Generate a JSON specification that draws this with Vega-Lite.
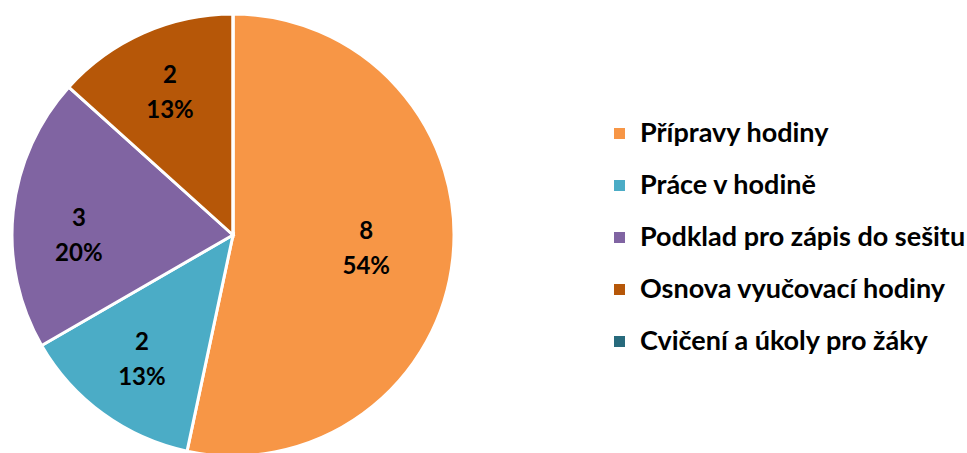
{
  "$schema": "https://vega.github.io/schema/vega-lite/v6.json",
  "width": 466,
  "height": 470,
  "padding": 0,
  "autosize": {"type": "pad"},
  "background": "white",
  "data": {
    "values": [
      {"kategorie": "Přípravy hodiny", "pocet": 8, "procento": 54, "poradi": 1},
      {"kategorie": "Práce v hodině", "pocet": 2, "procento": 13, "poradi": 2},
      {"kategorie": "Podklad pro zápis do sešitu", "pocet": 3, "procento": 20, "poradi": 3},
      {"kategorie": "Osnova vyučovací hodiny", "pocet": 2, "procento": 13, "poradi": 4},
      {"kategorie": "Cvičení a úkoly pro žáky", "pocet": 0, "procento": 0, "poradi": 5}
    ]
  },
  "encoding": {
    "theta": {"field": "pocet", "type": "quantitative", "stack": true},
    "order": {"field": "poradi", "type": "quantitative"}
  },
  "layer": [
    {
      "mark": {"type": "arc", "radius": 221, "stroke": "white", "strokeWidth": 3},
      "encoding": {
        "color": {
          "field": "kategorie",
          "type": "nominal",
          "scale": {
            "domain": ["Přípravy hodiny", "Práce v hodině", "Podklad pro zápis do sešitu", "Osnova vyučovací hodiny", "Cvičení a úkoly pro žáky"],
            "range": ["#F79646", "#4BACC6", "#8064A2", "#B65708", "#276A7C"]
          },
          "sort": null,
          "legend": {
            "title": null,
            "orient": "none",
            "legendX": 606,
            "legendY": 120,
            "symbolType": "square",
            "symbolSize": 121,
            "symbolStrokeWidth": 0,
            "labelFont": "Lato",
            "labelFontWeight": "bold",
            "labelFontSize": 27,
            "labelColor": "black",
            "labelOffset": 7,
            "labelLimit": 400,
            "rowPadding": 24
          }
        }
      }
    },
    {
      "transform": [
        {"filter": "datum.pocet > 0"},
        {"calculate": "[format(datum.pocet, 'd'), datum.procento + '%']", "as": "popisek"}
      ],
      "mark": {
        "type": "text",
        "radius": {"expr": "datum.pocet > 5 ? 134 : 155"},
        "dy": {"expr": "datum.poradi == 3 ? 0 : -17"},
        "font": "Lato",
        "fontWeight": "bold",
        "fontSize": 24,
        "lineHeight": 35,
        "color": "black",
        "align": "center",
        "baseline": "middle"
      },
      "encoding": {
        "text": {"field": "popisek"}
      }
    }
  ]
}
